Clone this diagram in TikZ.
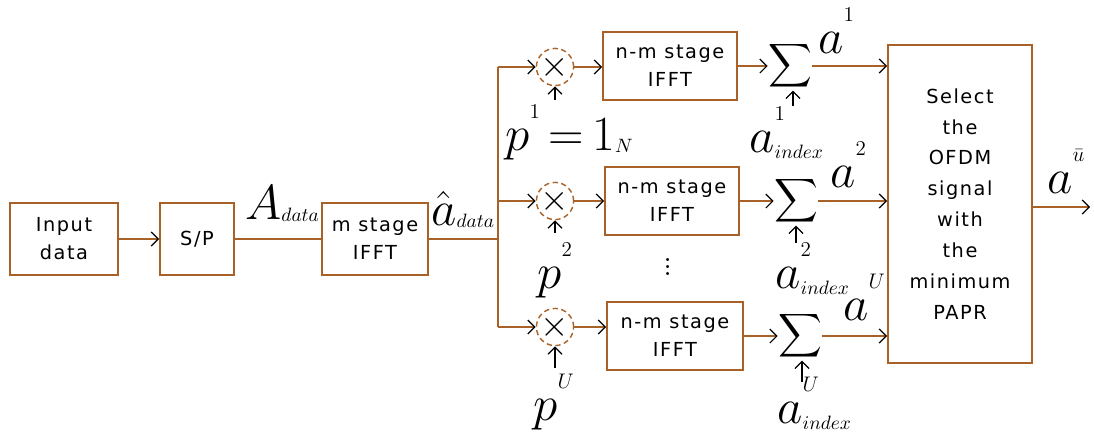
\documentclass[tikz,border=0pt]{standalone}
\usepackage{fix-cm}
\usepackage{amsmath}
\usepackage{fontspec}
\setsansfont{DejaVu Sans}[LetterSpace=8]
\usetikzlibrary{positioning,arrows.meta}
\definecolor{wirebrown}{RGB}{168,98,40}
\newcommand{\smallsub}[1]{\raisebox{3pt}{\fontsize{11}{11}\selectfont$#1$}}
\newcommand{\smallsup}[1]{\raisebox{8pt}{\fontsize{12}{12}\selectfont$#1$}}

\begin{document}
\begin{tikzpicture}[x=0.02cm,y=-0.02cm,
    blk/.style={draw=wirebrown,line width=1.1pt,align=center,inner sep=0pt,font=\sffamily\fontsize{11}{16}\selectfont},
    mix/.style={draw=wirebrown,densely dashed,line width=0.8pt,circle,minimum size=0.58cm,inner sep=0pt,font=\huge},
    adder/.style={inner sep=0pt,font=\LARGE},
    wire/.style={draw=wirebrown,line width=1.1pt},
    flow/.style={draw=wirebrown,line width=1.1pt,-{Straight Barb[color=black,length=4pt,width=8pt,line width=0.7pt]}},
    feed/.style={line width=0.7pt,-{Straight Barb[length=4pt,width=8pt]}},
    sym/.style={inner sep=0pt,anchor=base west,font=\fontsize{28}{30}\selectfont}]
      \useasboundingbox (0,0) rectangle (1094,437);
      % front end
      \node[blk,minimum width=2.16cm,minimum height=1.44cm] (in) at (64,239) {Input\\data};
      \node[blk,minimum width=1.48cm,minimum height=1.44cm] (sp) at (197,239) {S/P};
      \node[blk,minimum width=2.12cm,minimum height=1.44cm] (mst) at (375,239) {m stage\\IFFT};
      \node[sym] (lA) at (245,219) {$A_{\smallsub{data}}$};
      \node[sym] (lAhat) at (431,225) {$\hat{a}_{\smallsub{data}}$};
      \draw[flow] (in) -- (sp);
      \draw[wire] (sp) -- (mst);
      % split bus
      \coordinate (top) at (498,67);
      \coordinate (bot) at (498,327);
      \draw[wire] (mst.east) -- (mst.east -| top);
      \draw[wire] (top) -- (bot);
      % branches
      \node[mix] (x1) at (555,67) {$\times$};
      \node[mix] (x2) at (555,201) {$\times$};
      \node[mix] (xU) at (555,327) {$\times$};
      \node[blk,minimum width=2.68cm,minimum height=1.36cm] (nm1) at (670,66) {n-m stage\\IFFT};
      \node[blk,minimum width=2.68cm,minimum height=1.36cm] (nm2) at (672,201) {n-m stage\\IFFT};
      \node[blk,minimum width=2.72cm,minimum height=1.36cm] (nmU) at (675,336) {n-m stage\\IFFT};
      \node[inner sep=0pt,font=\huge] (dots) at (668,262) {$\vdots$};
      \node[adder] (s1) at (790,66) {$\displaystyle\sum$};
      \node[adder] (s2) at (796,201) {$\displaystyle\sum$};
      \node[adder] (sU) at (800,336) {$\displaystyle\sum$};
      \node[blk,minimum width=2.88cm,minimum height=6.36cm,font=\sffamily\fontsize{11}{17.6}\selectfont] (sel) at (960,204) {Select\\the\\OFDM\\signal\\with\\the\\minimum\\PAPR};
      \draw[flow] (top) -- (x1);
      \draw[flow] (top |- x2) -- (x2);
      \draw[flow] (bot) -- (xU);
      \draw[flow] (x1) -- (x1 -| nm1.west);
      \draw[flow] (x2) -- (x2 -| nm2.west);
      \draw[flow] (xU) -- (xU -| nmU.west);
      \draw[flow] (nm1.east) -- (nm1.east -| s1.west);
      \draw[flow] (nm2.east) -- (nm2.east -| s2.west);
      \draw[flow] (nmU.east) -- (nmU.east -| sU.west);
      \draw[flow] (s1.east) -- (s1.east -| sel.west);
      \draw[flow] (s2.east) -- (s2.east -| sel.west);
      \draw[flow] (sU.east) -- (sU.east -| sel.west);
      % phase sequences and side information
      \coordinate (x1in) at (555,100);
      \coordinate (x2in) at (555,233);
      \coordinate (xUin) at (555,368);
      \coordinate (s1in) at (793,106);
      \coordinate (s2in) at (796,243);
      \coordinate (sUin) at (802,382);
      \draw[feed] (x1in) -- (x1);
      \draw[feed] (x2in) -- (x2);
      \draw[feed] (xUin) -- (xU);
      \draw[feed] (s1in) -- (s1in |- s1.south);
      \draw[feed] (s2in) -- (s2in |- s2.south);
      \draw[feed] (sUin) -- (sUin |- sU.south);
      \node[sym] (p1) at (505,150) {$p^{\smallsup{1}}\,{=}\,1_{\smallsub{N}}$};
      \node[sym] (p2) at (537,288) {$p^{\smallsup{2}}$};
      \node[sym] (pU) at (533,420) {$p^{\smallsup{U}}$};
      \node[sym] (ai1) at (749,152) {$a^{\smallsup{1}}_{\smallsub{index}}$};
      \node[sym] (ai2) at (775,288) {$a^{\smallsup{2}}_{\smallsub{index}}$};
      \node[sym] (aiU) at (777,423) {$a^{\smallsup{U}}_{\smallsub{index}}$};
      \node[sym] (a1) at (818,53) {$a^{\smallsup{1}}$};
      \node[sym] (a2) at (830,187) {$a^{\smallsup{2}}$};
      \node[sym] (aU) at (843,320) {$a^{\smallsup{U}}$};
      % output
      \coordinate (out) at (1090,207);
      \draw[flow] (sel.east |- out) -- (out);
      \node[sym] (aout) at (1047,193) {$a^{\smallsup{\bar{u}}}$};
    \end{tikzpicture}
\end{document}
